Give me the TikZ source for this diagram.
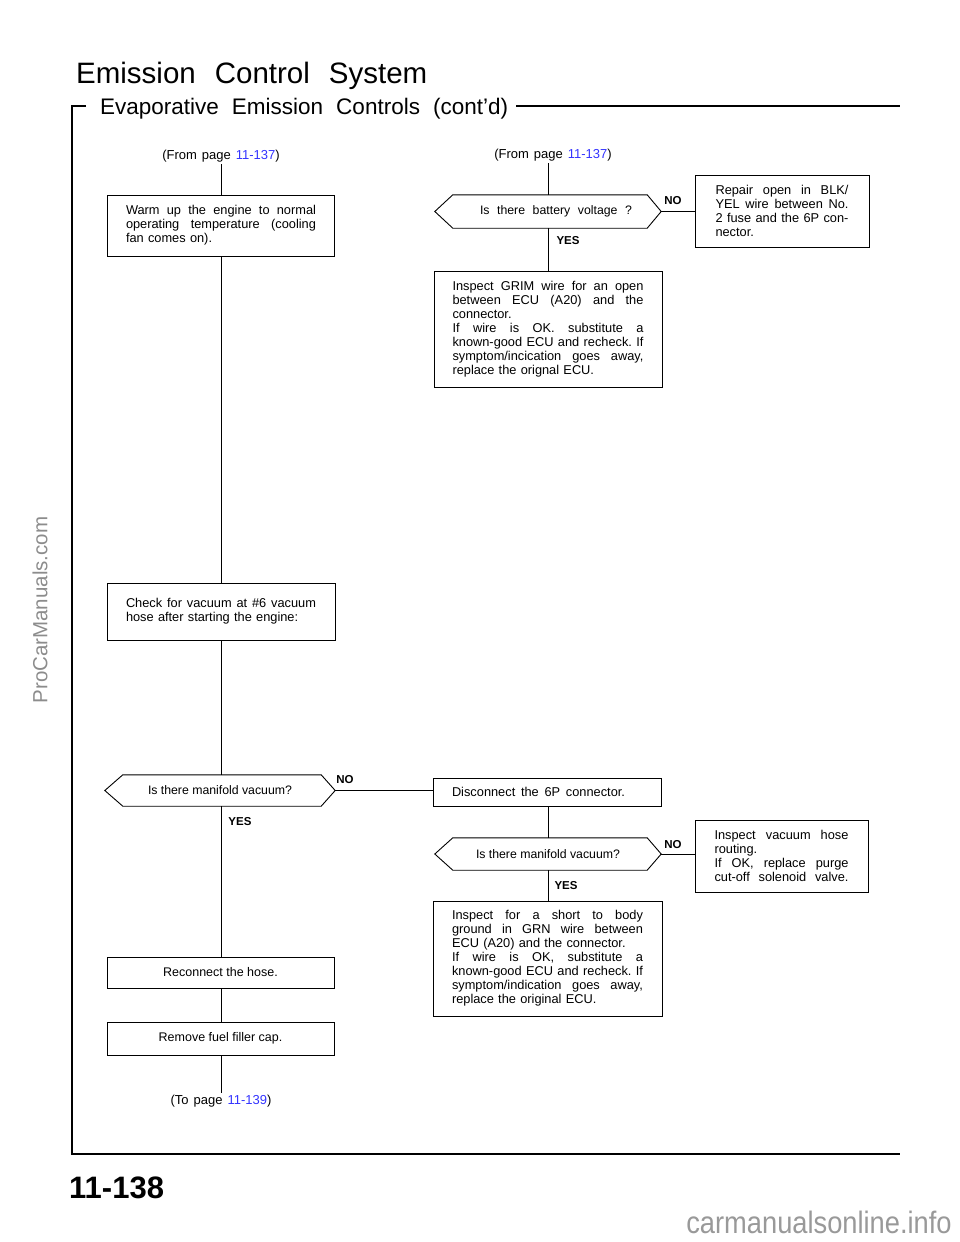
\documentclass[tikz,border=0pt]{standalone}
\usepackage{fontspec}
\setmainfont{Liberation Sans}
\definecolor{linkblue}{RGB}{51,51,255}
\setlength\parindent{0pt}
\newdimen\jw
\jw=190pt
\newcommand\jl[1]{\leavevmode\hbox to\jw{\spaceskip=0.25em plus 1fil\xspaceskip=\spaceskip\relax#1}}
\newcommand\pg[1]{\textcolor{linkblue}{#1}}
\begin{document}
\begin{tikzpicture}[x=1pt,y=-1pt,
  stepbox/.style={draw, line width=0.9pt, inner sep=0pt, align=left, font=\fontsize{12.8}{14}\selectfont},
  onebox/.style={draw, line width=0.9pt, inner sep=0pt, align=center, font=\fontsize{12.5}{14}\selectfont},
  ques/.style={inner sep=0pt, font=\fontsize{12.3}{14}\selectfont},
  qline/.style={line width=0.9pt, line join=miter},
  conn/.style={line width=0.9pt},
  lbl/.style={font=\bfseries\fontsize{11.5}{13}\selectfont, inner sep=0pt},
  pageref/.style={font=\fontsize{13}{14}\selectfont, inner sep=2pt},
  frameline/.style={line width=2.4pt},
  wmark/.style={text=black!45, inner sep=0pt}
]
\useasboundingbox (0,0) rectangle (960,1242);

% titles
\node[anchor=base west, inner sep=0pt, font=\fontsize{29.5}{30}\selectfont] (title) at (76,83)
  {Emission\hspace{19pt}Control\hspace{19pt}System};
\node[anchor=base west, inner sep=0pt, font=\fontsize{22.5}{24}\selectfont] (subtitle) at (100,114)
  {Evaporative\hspace{13pt}Emission\hspace{13pt}Controls\hspace{13pt}(cont\char"27 d)};

% frame
\coordinate (fstub) at (86,106);
\coordinate (ftl) at (72,106);
\coordinate (fbl) at (72,1154);
\coordinate (fbr) at (900,1154);
\coordinate (flineA) at (516,106);
\coordinate (flineB) at (900,106);
\draw[frameline] (fstub) -- (ftl) -- (fbl) -- (fbr);
\draw[line width=2pt] (flineA) -- (flineB);

% left column
\node[pageref] (from1) at (221,156) {(From\hspace{5pt}page\hspace{5pt}\pg{11-137})};
\node[stepbox, minimum width=227pt, minimum height=61pt, text width=190pt] (b1) at (221,225.5)
  {\jw=190pt\jl{Warm up the engine to normal}\\\jl{operating temperature (cooling}\\fan comes on).};
\node[stepbox, minimum width=228pt, minimum height=57pt, text width=190pt] (b2) at (221,611.5)
  {\jw=190pt\jl{Check for vacuum at \#6 vacuum}\\hose after starting the engine:};
\node[ques, minimum width=230pt, minimum height=31pt] (q1) at (220,790.5)
  {\jw=144pt\jl{Is there manifold vacuum?}};
\node[onebox, minimum width=227pt, minimum height=31pt] (b3) at (220.5,972.5) {Reconnect the hose.};
\node[onebox, minimum width=227pt, minimum height=33pt] (b4) at (220.5,1038.5) {Remove fuel filler cap.};
\node[pageref] (to1) at (221,1101) {(To\hspace{5pt}page\hspace{5pt}\pg{11-139})};

% right column
\node[pageref] (from2) at (553,155) {(From\hspace{5pt}page\hspace{5pt}\pg{11-137})};
\node[ques, minimum width=226pt, minimum height=33pt] (q2) at (548,211.5)
  {\hspace{16pt}\jw=152pt\jl{Is there battery voltage ?}};
\node[stepbox, minimum width=174pt, minimum height=72pt, text width=133pt] (r1) at (782,211)
  {\jw=133pt\jl{Repair open in BLK/}\\\jl{YEL wire between No.}\\\jl{2 fuse and the 6P con-}\\nector.};
\node[stepbox, minimum width=228pt, minimum height=116pt, text width=191pt] (b5) at (548,329)
  {\jw=191pt\jl{Inspect GRIM wire for an open}\\\jl{between ECU (A20) and the}\\connector.\\\jl{If wire is OK. substitute a}\\\jl{known-good ECU and recheck. If}\\\jl{symptom/incication goes away,}\\replace the orignal ECU.};
\node[stepbox, minimum width=228pt, minimum height=28pt, text width=190pt] (b6) at (547,792)
  {\jw=173pt\jl{Disconnect the 6P connector.}};
\node[ques, minimum width=226pt, minimum height=32pt] (q3) at (548,854)
  {\jw=144pt\jl{Is there manifold vacuum?}};
\node[stepbox, minimum width=173pt, minimum height=72pt, text width=134pt] (r2) at (781.5,856)
  {\jw=134pt\jl{Inspect vacuum hose}\\routing.\\\jl{If OK, replace purge}\\\jl{cut-off solenoid valve.}};
\node[stepbox, minimum width=229pt, minimum height=115pt, text width=191pt] (b7) at (547.5,958.5)
  {\jw=191pt\jl{Inspect for a short to body}\\\jl{ground in GRN wire between}\\ECU (A20) and the connector.\\\jl{If wire is OK, substitute a}\\\jl{known-good ECU and recheck. If}\\\jl{symptom/indication goes away,}\\replace the original ECU.};

% hexagons
\foreach \q in {q1,q2,q3}{
  \draw[qline] (\q.west) -- ([xshift=18pt]\q.north west) -- ([xshift=-14pt]\q.north east)
    -- (\q.east) -- ([xshift=-14pt]\q.south east) -- ([xshift=18pt]\q.south west) -- cycle;
}

% connectors
\draw[conn] (from1.south) -- (from1.south |- b1.north);
\draw[conn] (b1.south) -- (b1.south |- b2.north);
\draw[conn] (b2.south) -- (b2.south |- q1.north);
\draw[conn] (q1.south -| b2.south) -- (b2.south |- b3.north);
\draw[conn] (b3.south -| b2.south) -- (b2.south |- b4.north);
\draw[conn] (b4.south -| b2.south) -- (b2.south |- to1.north);
\draw[conn] (q1.east) -- (q1.east -| b6.west);

\draw[conn] (from2.south -| q2.north) -- (q2.north);
\draw[conn] (q2.south) -- (q2.south |- b5.north);
\draw[conn] (q2.east) -- (q2.east -| r1.west);
\draw[conn] (b6.south -| q3.north) -- (q3.north);
\draw[conn] (q3.south) -- (q3.south |- b7.north);
\draw[conn] (q3.east) -- (q3.east -| r2.west);

% labels
\node[lbl] (no1) at (673,201) {NO};
\node[lbl] (yes1) at (568,241) {YES};
\node[lbl] (no2) at (345,780) {NO};
\node[lbl] (yes2) at (240,822) {YES};
\node[lbl] (no3) at (673,845) {NO};
\node[lbl] (yes3) at (566,886) {YES};

% page number
\node[anchor=base west, inner sep=0pt, font=\bfseries\fontsize{31}{32}\selectfont] (pnum) at (69,1198) {11-138};

% watermarks
\node[wmark, rotate=90, font=\fontsize{20.5}{22}\selectfont] (wm1) at (40,610) {ProCarManuals.com};
\node[wmark, font=\fontsize{31}{32}\selectfont, text=black!40] (wm2) at (819,1222) {\scalebox{0.88}[1]{carmanualsonline.info}};
\end{tikzpicture}
\end{document}
